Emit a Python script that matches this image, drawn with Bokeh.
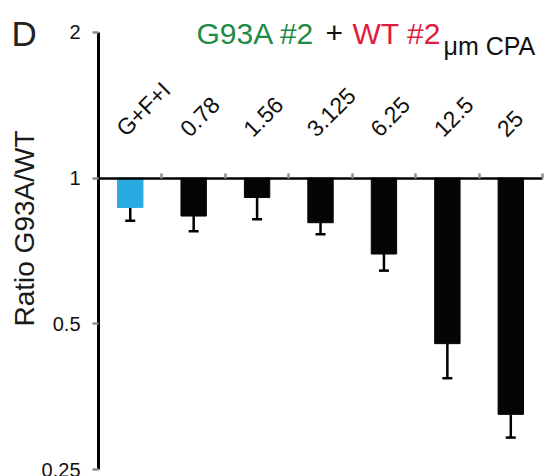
import math
from bokeh.plotting import figure
from bokeh.models import (Range1d, FixedTicker, Whisker, TeeHead, ColumnDataSource)
from bokeh.core.properties import value
from bokeh.embed import file_html
from bokeh.resources import INLINE

# ---- data ----
categories = ["G+F+I", "0.78", "1.56", "3.125", "6.25", "12.5", "25"]
ratio = [0.870, 0.835, 0.912, 0.809, 0.697, 0.455, 0.325]
ratio_err_low = [0.817, 0.777, 0.822, 0.766, 0.644, 0.386, 0.291]
bar_colors = ["#29ABE2", "#050505", "#050505", "#050505", "#050505", "#050505", "#050505"]
y_ticks = [0.25, 0.5, 1, 2]
y_tick_labels = ["0.25", "0.5", "1", "2"]

n = len(categories)
xpos = [i + 0.5 for i in range(n)]          # category centres
edge_ticks = [i + 1 for i in range(n)]      # category boundaries
baseline = [1.0] * n

FONT = "Liberation Sans"

# frame covers the whole canvas; axes are pinned inside it
W, H = 546, 476
cat_px = 63.4                       # pixels per category
x_left_px, x_right_px = 98, 4       # margins around the category span
oct_px = 145.67                     # pixels per factor of 2 on the y axis
y_top_px, y_bot_px = 32, 7
x0 = -x_left_px / cat_px
x1 = n + x_right_px / cat_px
y0 = y_ticks[0] * 2 ** (-y_bot_px / oct_px)
y1 = y_ticks[-1] * 2 ** (y_top_px / oct_px)

p = figure(width=W, height=H, output_backend="svg", toolbar_location=None,
           x_range=Range1d(x0, x1), y_range=Range1d(y0, y1),
           y_axis_type="log", x_axis_location="above", y_axis_location="left")
p.min_border = 0
p.min_border_left = 0
p.min_border_right = 0
p.min_border_top = 0
p.min_border_bottom = 0
p.outline_line_color = None
p.xgrid.visible = False
p.ygrid.visible = False
p.background_fill_color = "white"
p.border_fill_color = "white"

src = ColumnDataSource(dict(x=xpos, cat=categories, val=ratio, low=ratio_err_low,
                            base=baseline, color=bar_colors))

p.vbar(x="x", top="base", bottom="val", width=0.4, fill_color="color",
       line_color="color", source=src)

wh = Whisker(base="x", upper="val", lower="low", source=src,
             upper_head=None, lower_head=TeeHead(size=10, line_width=2.5, line_color="black"),
             line_width=2.5, line_color="black")
p.add_layout(wh)

# y axis, pinned at the start of the first category
ya = p.yaxis[0]
ya.fixed_location = 0
ya.bounds = (y_ticks[0], y_ticks[-1])
ya.ticker = FixedTicker(ticks=y_ticks)
ya.major_label_overrides = {t: l for t, l in zip(y_ticks, y_tick_labels)}
ya.axis_line_width = 3
ya.axis_line_color = "black"
ya.major_tick_line_color = "#8c8c8c"
ya.major_tick_line_width = 2.5
ya.major_tick_out = 6
ya.major_tick_in = 0
ya.minor_tick_line_color = None
ya.major_label_text_font = FONT
ya.major_label_text_font_size = "20px"
ya.major_label_text_color = "#111111"
ya.major_label_standoff = 12

# x axis line at y = 1 with ticks at category boundaries
xa = p.xaxis[0]
xa.fixed_location = 1
xa.bounds = (0, n)
xa.ticker = FixedTicker(ticks=edge_ticks)
xa.major_label_overrides = {t: "" for t in edge_ticks}
xa.axis_line_width = 2.5
xa.axis_line_color = "black"
xa.major_tick_line_color = "#8c8c8c"
xa.major_tick_line_width = 2.5
xa.major_tick_out = 5
xa.major_tick_in = 0
xa.minor_tick_line_color = None
xa.major_label_standoff = 0

# category labels, rotated, above the axis line
p.text(x=xpos, y=baseline, text=categories, angle=math.pi / 4,
       x_offset=-10, y_offset=-46, text_align="left", text_baseline="alphabetic",
       text_font=value(FONT), text_font_size="23px", text_color="#111111")

# free texts, offset in pixels from the top of the y axis (x=0, y=2)
def txt(text, dx, dy, size, color="#111111", angle=0, align="left", base="alphabetic"):
    p.text(x=[0], y=[y_ticks[-1]], text=[text], x_offset=dx, y_offset=dy,
           angle=angle, text_align=align, text_baseline=base,
           text_font=value(FONT), text_font_size=size, text_color=color)

txt("D", -87, 1, "35px", "#222222")
txt("G93A #2", 98, 1, "30px", "#1E8B45")
txt("+", 227, 1, "30px", "#111111")
txt("WT #2", 254, 1, "30px", "#E01B3C")
txt("\u03bcm CPA", 345, 14, "25px", "#111111")
txt("Ratio G93A/WT", -74, 196, "28px", "#1a1a1a", angle=math.pi / 2,
    align="center", base="middle")

open("out.html", "w").write(file_html(p, INLINE))
